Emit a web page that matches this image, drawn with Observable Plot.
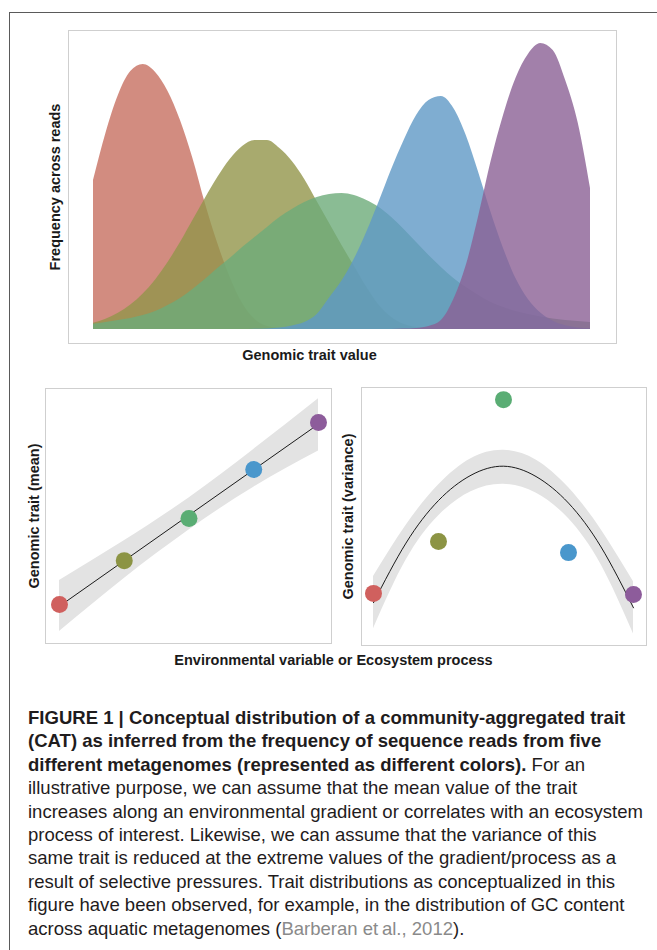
<!DOCTYPE html>
<html>
<head>
<meta charset="utf-8">
<script src="https://cdn.jsdelivr.net/npm/d3@7"></script>
<script src="https://cdn.jsdelivr.net/npm/@observablehq/plot@0.6"></script>
<style>
  html, body { margin: 0; padding: 0; background: #fff; }
  #page { position: relative; width: 657px; height: 950px; overflow: hidden; background: #fff;
          font-family: "Liberation Sans", Arial, Helvetica, sans-serif; color: #1f1c1d; }
  #outer { position: absolute; left: 8.5px; top: 11.5px; width: 700px; height: 1000px;
           border-top: 1.4px solid #5a5a5a; border-left: 1.4px solid #5a5a5a; }
  .panel { position: absolute; }
  #xlab { position: absolute; left: 0; width: 667px; top: 651px; text-align: center;
          font-weight: bold; font-size: 14.5px; line-height: 18px; color: #1a1a1a; }
  #caption { position: absolute; left: 28px; top: 706px; font-size: 18.55px; line-height: 23.4px; }
  #caption div { white-space: nowrap; }
  .ref { color: #8a8a8a; }
</style>
</head>
<body>
<div id="page">
  <div id="outer"></div>
  <div id="top" class="panel" style="left:0;top:0"></div>
  <div id="bl" class="panel" style="left:0;top:380px"></div>
  <div id="br" class="panel" style="left:330px;top:380px"></div>
  <div id="xlab">Environmental variable or Ecosystem process</div>
  <div id="caption">
    <div><b>FIGURE 1 | Conceptual distribution of a community-aggregated trait</b></div>
    <div><b>(CAT) as inferred from the frequency of sequence reads from five</b></div>
    <div><b>different metagenomes (represented as different colors).</b> For an</div>
    <div>illustrative purpose, we can assume that the mean value of the trait</div>
    <div>increases along an environmental gradient or correlates with an ecosystem</div>
    <div>process of interest. Likewise, we can assume that the variance of this</div>
    <div>same trait is reduced at the extreme values of the gradient/process as a</div>
    <div>result of selective pressures. Trait distributions as conceptualized in this</div>
    <div>figure have been observed, for example, in the distribution of GC content</div>
    <div>across aquatic metagenomes (<span class="ref">Barberan et&#8201;al., 2012</span>).</div>
  </div>
</div>
<script>
// ---------- data ----------
const metagenomes = ["Metagenome 1", "Metagenome 2", "Metagenome 3", "Metagenome 4", "Metagenome 5"];
const dotColors  = ["#d0605e", "#8c9444", "#5aad74", "#4a97cc", "#8d5c9b"];
const areaColors = ["rgb(199,111,96)", "rgb(146,149,74)", "rgb(109,171,121)", "rgb(95,152,197)", "rgb(139,96,149)"];

// top panel: frequency across reads vs genomic trait value
const traitValue = [0, 2.5, 5, 7.5, 10, 12.5, 15, 17.5, 20, 22.5, 25, 27.5, 30, 32.5, 35, 37.5, 40,
  42.5, 45, 47.5, 50, 52.5, 55, 57.5, 60, 62.5, 65, 67.5, 70, 72.5, 75, 77.5, 80, 82.5, 85, 87.5, 90,
  92.5, 95, 97.5, 100];
const freqRed    = [149, 196, 234, 258, 265, 257, 238, 209, 171, 126, 86, 52, 26, 10, 3, 1, 0.5, 0.3, 0.2, 0, 0,
  0, 0, 0, 0, 0, 0, 0, 0, 0, 0, 0, 0, 0, 0, 0, 0, 0, 0, 0, 0];
const freqOlive  = [6.3, 10.3, 16.2, 24.4, 35.4, 49.6, 67, 87, 109, 131, 152, 170, 183, 189, 189, 181, 168,
  150, 128, 106, 84, 63, 42, 24, 12, 5, 2, 1, 0.5, 0.3, 0, 0, 0, 0, 0, 0, 0, 0, 0, 0, 0];
const freqGreen  = [5.3, 7, 9, 11, 14, 18, 24, 31, 40, 50, 61, 71, 82, 92, 102, 112, 120, 127, 132, 135, 136,
  134, 129, 122, 112, 100, 87, 74, 62, 51, 42, 34, 27, 22, 18, 15, 12.5, 10.5, 9, 8, 7];
const freqBlue   = [0, 0, 0, 0, 0, 0, 0, 0, 0, 0, 0, 0, 0, 0.3, 0.6, 1.5, 3.5, 7, 15, 31.6, 48.4, 70.4, 97.5,
  128, 160, 189, 214, 229, 233, 221, 194, 157, 117, 81, 51, 30, 16.5, 8.3, 3.8, 1.6, 0.7];
const freqPurple = [0, 0, 0, 0, 0, 0, 0, 0, 0, 0, 0, 0, 0, 0, 0, 0, 0, 0, 0, 0, 0, 0, 0, 0, 0, 0.4, 1, 3, 9,
  30, 64, 113, 168, 214, 251, 275, 286, 279, 249, 207, 141];

// bottom panels: environmental variable (x) vs trait mean / variance
const envValue   = [1, 2, 3, 4, 5];
const traitMean  = [1.53, 3.25, 4.90, 6.82, 8.67];
const traitVar   = [2.02, 4.03, 9.53, 3.60, 1.98];

// shaded band around the mean trend
const meanBandX  = [1, 2, 3, 4, 5];
const meanBandLo = [0.47, 2.55, 4.45, 6.13, 7.55];
const meanBandHi = [2.47, 4.03, 5.71, 7.61, 9.6];

// fitted variance curve and its band
const varFitX  = [1, 1.5, 2, 2.5, 3, 3.5, 4, 4.5, 5];
const varFit   = [1.66, 3.97, 5.62, 6.60, 6.95, 6.55, 5.52, 3.82, 1.46];
const varLo    = [0.65, 3.30, 5.02, 5.96, 6.25, 5.91, 4.92, 3.14, 0.45];
const varHi    = [2.67, 4.65, 6.22, 7.24, 7.57, 7.19, 6.12, 4.50, 2.47];

// ---------- tables ----------
const freqs = [freqRed, freqOlive, freqGreen, freqBlue, freqPurple];
const densityRows = metagenomes.flatMap((m, k) => traitValue.map((t, i) => ({metagenome: m, trait: t, freq: freqs[k][i]})));
const meanRows = envValue.map((e, i) => ({metagenome: metagenomes[i], env: e, value: traitMean[i]}));
const varRows  = envValue.map((e, i) => ({metagenome: metagenomes[i], env: e, value: traitVar[i]}));
const meanBand = meanBandX.map((x, i) => ({x, lo: meanBandLo[i], hi: meanBandHi[i]}));
const varCurve = varFitX.map((x, i) => ({x, fit: varFit[i], lo: varLo[i], hi: varHi[i]}));

const font = "'Liberation Sans', Arial, Helvetica, sans-serif";
const labelStyle = {fontWeight: "bold", fontSize: 14.5, fill: "#1a1a1a", textAnchor: "middle", lineAnchor: "middle"};
const svgStyle = {fontFamily: font, background: "transparent", overflow: "visible"};

// ---------- top panel ----------
const topPlot = Plot.plot({
  width: 657, height: 380,
  marginLeft: 68, marginRight: 41, marginTop: 30, marginBottom: 37,
  style: svgStyle,
  x: {domain: [0, 100], insetLeft: 25, insetRight: 26, axis: null},
  y: {domain: [0, 299], insetBottom: 14, axis: null},
  color: {domain: metagenomes, range: areaColors},
  marks: [
    Plot.area(densityRows, {x1: "trait", y1: 0, y2: "freq", z: "metagenome", fill: "metagenome",
                            fillOpacity: 0.8, curve: "monotone-x"}),
    Plot.frame({stroke: "#cfcfcf", strokeWidth: 1}),
    Plot.text(["Frequency across reads"], {frameAnchor: "left", dx: -13, rotate: -90, ...labelStyle}),
    Plot.text(["Genomic trait value"], {frameAnchor: "bottom", dx: -33, dy: 12, ...labelStyle})
  ]
});
document.getElementById("top").appendChild(topPlot);

// ---------- bottom left ----------
const blPlot = Plot.plot({
  width: 340, height: 300,
  marginLeft: 45, marginRight: 9, marginTop: 8, marginBottom: 37,
  style: svgStyle,
  x: {domain: [1, 5], insetLeft: 14, insetRight: 13, axis: null},
  y: {domain: [0, 10], axis: null},
  color: {domain: metagenomes, range: dotColors},
  marks: [
    Plot.area(meanBand, {x1: "x", y1: "lo", y2: "hi", fill: "#e3e3e3", curve: "natural"}),
    Plot.linearRegressionY(meanRows, {x: "env", y: "value", ci: 0, stroke: "#1b1b1b", strokeWidth: 1}),
    Plot.dot(meanRows, {x: "env", y: "value", r: 8.5, fill: "metagenome", stroke: "none"}),
    Plot.frame({stroke: "#cfcfcf", strokeWidth: 1}),
    Plot.text(["Genomic trait (mean)"], {frameAnchor: "left", dx: -11.5, rotate: -90, ...labelStyle})
  ]
});
document.getElementById("bl").appendChild(blPlot);

// ---------- bottom right ----------
const brPlot = Plot.plot({
  width: 327, height: 300,
  marginLeft: 31, marginRight: 11, marginTop: 7, marginBottom: 35,
  style: svgStyle,
  x: {domain: [1, 5], insetLeft: 12, insetRight: 13, axis: null},
  y: {domain: [0, 10], axis: null},
  color: {domain: metagenomes, range: dotColors},
  marks: [
    Plot.area(varCurve, {x1: "x", y1: "lo", y2: "hi", fill: "#e3e3e3", curve: "natural"}),
    Plot.line(varCurve, {x: "x", y: "fit", stroke: "#1b1b1b", strokeWidth: 1, curve: "natural"}),
    Plot.dot(varRows, {x: "env", y: "value", r: 8.5, fill: "metagenome", stroke: "none"}),
    Plot.frame({stroke: "#cfcfcf", strokeWidth: 1}),
    Plot.text(["Genomic trait (variance)"], {frameAnchor: "left", dx: -13, rotate: -90, ...labelStyle})
  ]
});
document.getElementById("br").appendChild(brPlot);
</script>
</body>
</html>
